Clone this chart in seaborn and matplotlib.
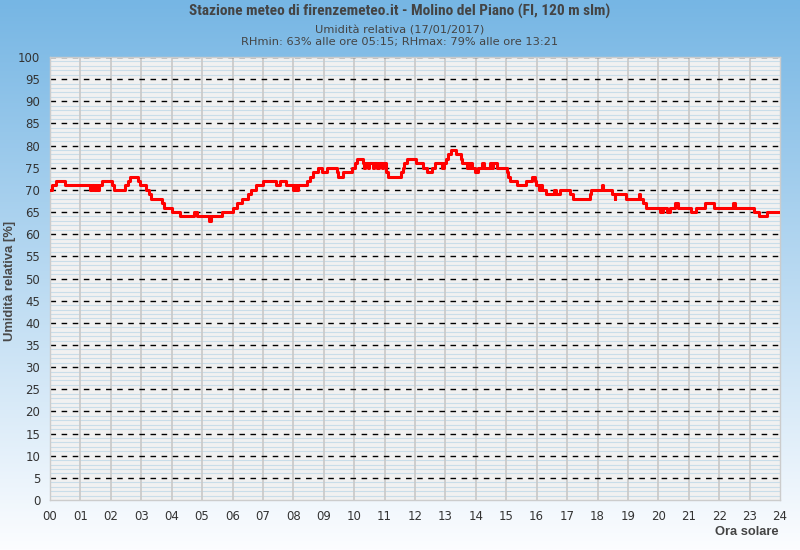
import numpy as np
import pandas as pd
import matplotlib
matplotlib.use("Agg")
import matplotlib.pyplot as plt
from matplotlib import font_manager
import seaborn as sns

# --- data: hour of change (solar time) and relative humidity [%] held from that time ---
hours = [0.00, 0.08, 0.20, 0.50, 1.30, 1.38, 1.45, 1.50, 1.55, 1.60, 1.70, 2.05, 2.10,
         2.48, 2.56, 2.62, 2.90, 2.95, 3.16, 3.25, 3.33, 3.68, 3.75, 4.02, 4.28, 4.73,
         4.82, 5.22, 5.30, 5.65, 6.02, 6.15, 6.30, 6.50, 6.62, 6.78, 7.00, 7.43, 7.57,
         7.77, 8.00, 8.05, 8.10, 8.15, 8.45, 8.55, 8.65, 8.80, 8.93, 9.12, 9.42, 9.48,
         9.63, 9.92, 10.02, 10.08, 10.28, 10.33, 10.37, 10.45, 10.50, 10.62, 10.66,
         10.75, 10.80, 10.90, 10.95, 11.05, 11.12, 11.55, 11.60, 11.65, 11.75, 12.03,
         12.25, 12.38, 12.55, 12.67, 12.88, 12.94, 13.02, 13.10, 13.20, 13.36,
         13.50, 13.55, 13.70, 13.74, 13.78, 13.82, 13.86, 13.96, 14.08, 14.20, 14.27,
         14.46, 14.54, 14.57, 14.68, 15.03, 15.06, 15.12, 15.36, 15.64, 15.86, 15.93,
         15.98, 16.08, 16.11, 16.18, 16.32, 16.56, 16.64, 16.77, 17.10, 17.18, 17.76,
         17.80, 18.16, 18.19, 18.48, 18.56, 18.59, 18.95, 19.36, 19.40, 19.48,
         19.58, 20.05, 20.08, 20.12, 20.16, 20.30, 20.40, 20.55, 20.66, 21.07,
         21.25, 21.55, 21.84, 22.45, 22.53, 23.15, 23.30, 23.58, 24.00]
rh = [70, 71, 72, 71, 70, 71, 70, 71, 70, 71, 72, 71, 70,
      71, 72, 73, 72, 71, 70, 69, 68, 67, 66, 65, 64, 65,
      64, 63, 64, 65, 66, 67, 68, 69, 70, 71, 72, 71, 72,
      71, 70, 71, 70, 71, 72, 73, 74, 75, 74, 75, 74, 73,
      74, 75, 76, 77, 76, 75, 76, 75, 76, 75, 76,
      75, 76, 75, 76, 74, 73, 74, 75, 76, 77, 76,
      75, 74, 75, 76, 75, 76, 77, 78, 79, 78,
      77, 76, 75, 76, 75, 76, 75, 74, 75, 76, 75,
      76, 75, 76, 75, 74, 73, 72, 71, 72, 73, 72,
      71, 70, 71, 70, 69, 70, 69, 70, 69, 68, 69,
      70, 71, 70, 69, 68, 69, 68, 69, 68, 67,
      66, 65, 66, 65, 66, 65, 66, 67, 66, 65,
      66, 67, 66, 67, 66, 65, 64, 65, 65]

x_ticks = list(range(0, 25))
x_labels = [f"{h:02d}" for h in x_ticks]
y_ticks = list(range(0, 101, 5))

title = "Stazione meteo di firenzemeteo.it - Molino del Piano (FI, 120 m slm)"
subtitle1 = "Umidità relativa (17/01/2017)"
subtitle2 = "RHmin: 63% alle ore 05:15; RHmax: 79% alle ore 13:21"

df = pd.DataFrame({"ora": hours, "rh": rh})

sns.set_style("white")
plt.rcParams["font.family"] = ["DejaVu Sans"]

W, H = 800, 550
fig = plt.figure(figsize=(W / 100, H / 100), dpi=100)

# background gradient
bg = fig.add_axes([0, 0, 1, 1], zorder=-10)
top_c = np.array([0x76, 0xb6, 0xe4]) / 255
bot_c = np.array([0xfc, 0xfd, 0xff]) / 255
t = np.linspace(0, 1, 256)[:, None]
grad = top_c[None, :] * (1 - t) + bot_c[None, :] * t
bg.imshow(grad[:, None, :], aspect="auto", extent=[0, 1, 0, 1])
bg.set_axis_off()

ax = fig.add_axes([50 / W, 1 - 500 / H, 730 / W, 443 / H])
ax.set_facecolor("#f1f1f1")

# minor light-blue horizontal lines
for v in range(1, 100):
    if v % 5:
        ax.axhline(v, color="#c9dde9", lw=0.8, zorder=1)
# vertical hour lines
for h in range(1, 24):
    ax.axvline(h, color="#c8c8c8", lw=1.2, zorder=1.5)
# dashed lines every 5
for v in range(5, 101, 5):
    ax.axhline(v, color="black", lw=1.0, ls=(0, (4, 4)), zorder=2)

sns.lineplot(data=df, x="ora", y="rh", ax=ax, color="#ff0000", lw=2.2,
             drawstyle="steps-post", estimator=None, zorder=5)

ax.set_xlim(0, 24)
ax.set_ylim(0, 100)
ax.set_xticks(x_ticks)
ax.set_xticklabels(x_labels)
ax.set_yticks(y_ticks)
ax.tick_params(axis="both", length=0, labelsize=8.5, colors="#333333")
ax.tick_params(axis="x", pad=7)
ax.tick_params(axis="y", pad=7)
ax.set_xlabel("")
ax.set_ylabel("")
for s in ax.spines.values():
    s.set_color("#cccccc")
    s.set_linewidth(1)


def _w(f):
    w = f.weight
    if isinstance(w, str):
        return 700 if "bold" in w.lower() else 400
    return w


# title font: an Arial-Narrow-like bold face if available
preferred = ["Liberation Sans Narrow", "Arial Narrow", "Roboto Condensed"]
bold_names = {f.name for f in font_manager.fontManager.ttflist
              if _w(f) >= 600 and f.style == "normal"}
title_family = ["Liberation Sans", "DejaVu Sans"]
for nm in preferred:
    if nm in bold_names:
        title_family = [nm, "DejaVu Sans"]
        break

ttl = fig.text(0.5, 1 - 11 / H, title, ha="center", va="center", fontsize=10,
               fontweight="bold", color="#444444", family=title_family)
# fit title width to ~422 px
fig.canvas.draw()
r = fig.canvas.get_renderer()
wpx = ttl.get_window_extent(r).width
ttl.set_fontsize(min(11.2, 10 * 422 / wpx))

fig.text(0.5, 1 - 30.5 / H, subtitle1, ha="center", va="center", fontsize=8.2,
         color="#444444")
fig.text(0.5, 1 - 41.8 / H, subtitle2, ha="center", va="center", fontsize=8.2,
         color="#444444")
fig.text(10 / W, 1 - 281 / H, "Umidità relativa [%]", rotation=90,
         ha="center", va="center", fontsize=9.4, fontweight="bold",
         color="#4a4a4a", family=["Liberation Sans", "DejaVu Sans"])
fig.text(779 / W, 1 - 532 / H, "Ora solare", ha="right", va="center",
         fontsize=9.3, fontweight="bold", color="#444444",
         family=["Liberation Sans", "DejaVu Sans"])

fig.savefig("out.png", dpi=100)
